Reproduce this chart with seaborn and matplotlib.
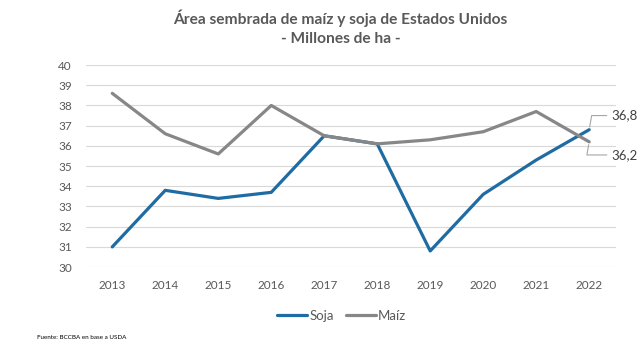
import matplotlib
matplotlib.use("Agg")
import matplotlib.pyplot as plt
import seaborn as sns
import pandas as pd

# Área sembrada en EE.UU. (millones de ha)
years = ["2013", "2014", "2015", "2016", "2017", "2018", "2019", "2020", "2021", "2022"]
soja = [31.0, 33.8, 33.4, 33.7, 36.5, 36.1, 30.8, 33.6, 35.3, 36.8]
maiz = [38.6, 36.6, 35.6, 38.0, 36.5, 36.1, 36.3, 36.7, 37.7, 36.2]
series = ["Soja", "Maíz"]
colors = ["#1F6CA3", "#878787"]

df = pd.DataFrame({
    "x": list(range(len(years))) * 2,
    "valor": soja + maiz,
    "serie": [series[0]] * len(years) + [series[1]] * len(years),
})

sns.set_theme(style="white")
plt.rcParams["font.family"] = ["Lato", "DejaVu Sans"]

fig = plt.figure(figsize=(6.4, 3.46), dpi=100)
ax = fig.add_axes([0.134, 0.228, 0.828, 0.584])

sns.lineplot(data=df, x="x", y="valor", hue="serie", palette=colors,
             linewidth=2.3, ax=ax, legend=False, sort=False)

ax.set_xlim(-0.5, len(years) - 0.5)
ax.set_ylim(30, 40)
ax.set_yticks(range(30, 41))
ax.set_xticks(range(len(years)))
ax.set_xticklabels(years)
ax.set_xlabel("")
ax.set_ylabel("")
ax.grid(axis="y", color="#D9D9D9", linewidth=0.8)
ax.set_axisbelow(True)
for s in ax.spines.values():
    s.set_visible(False)
ax.tick_params(axis="both", length=0, labelsize=8.5, colors="#595959")
ax.tick_params(axis="x", pad=9)
ax.tick_params(axis="y", pad=10)

# Etiquetas del último valor con línea guía
last = len(years) - 1
for vals, dy in ((soja, 0.7), (maiz, -0.65)):
    v = vals[last]
    ax.annotate(f"{v:.1f}".replace(".", ","), xy=(last, v),
                xytext=(last + 0.42, v + dy), textcoords="data",
                ha="left", va="center", fontsize=9.5, color="#404040",
                annotation_clip=False,
                arrowprops=dict(arrowstyle="-", color="#A6A6A6", lw=0.8,
                                connectionstyle="angle,angleA=0,angleB=80,rad=0",
                                shrinkA=1, shrinkB=2))

# Título
fig.text(0.532, 0.948, "Área sembrada de maíz y soja de Estados Unidos",
         ha="center", va="center", fontsize=11.2, fontweight="bold", color="#595959")
fig.text(0.532, 0.887, "- Millones de ha -",
         ha="center", va="center", fontsize=11.2, fontweight="bold", color="#595959")

# Leyenda
handles = [plt.Line2D([], [], color=c, lw=2.3) for c in colors]
fig.legend(handles, series, loc="center", bbox_to_anchor=(0.534, 0.087), ncol=2,
           frameon=False, fontsize=9.5, handlelength=2.3, handletextpad=0.15,
           columnspacing=0.9, labelcolor="#595959")

fig.text(0.058, 0.025, "Fuente: BCCBA en base a USDA", ha="left", va="center",
         fontsize=4.5, color="#000000")

fig.savefig("out.png", dpi=100, facecolor="white")
